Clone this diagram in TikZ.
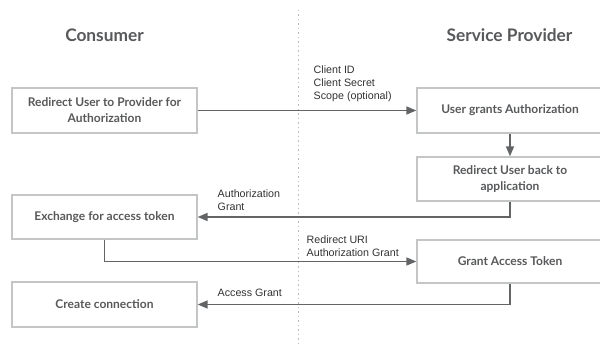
\documentclass[tikz,border=0pt]{standalone}
\usepackage{fontspec}
\setmainfont{Lato}
\newfontfamily\labelfont{Liberation Sans}
\usetikzlibrary{arrows.meta}

\definecolor{boxgray}{HTML}{C4C6C6}
\definecolor{textgray}{HTML}{58595B}
\definecolor{linegray}{HTML}{636466}
\definecolor{dotgray}{HTML}{BDBDBD}
\definecolor{labelgray}{HTML}{333333}

\tikzset{
  stepbox/.style={draw=boxgray, line width=1.3pt, fill=white, align=center,
    inner sep=0pt, text=textgray,
    font=\bfseries\fontsize{12}{16}\selectfont},
  leftbox/.style={stepbox, minimum width=185pt, minimum height=44pt},
  rightbox/.style={stepbox, minimum width=186pt, minimum height=44pt},
  header/.style={text=textgray, font=\bfseries\fontsize{17.3}{20}\selectfont},
  flow/.style={draw=linegray, line width=1.5pt,
    -{Triangle[length=10pt,width=8pt]}},
  msg/.style={anchor=west, align=left, inner sep=0pt, text=labelgray,
    font=\labelfont\fontsize{10.7}{13}\selectfont},
  divider/.style={draw=dotgray, line width=1.3pt, dash pattern=on 1.5pt off 3pt}
}

\begin{document}
\begin{tikzpicture}[x=1pt, y=-1pt]
  \useasboundingbox (0,0) rectangle (600,347);
  \fill[white] (0,0) rectangle (600,347);

  % swimlane divider
  \coordinate (divtop) at (298.5,10);
  \coordinate (divbot) at (298.5,347);
  \draw[divider] (divtop) -- (divbot);

  % lane headers
  \node[header] (consumer) at (104.5,35) {Consumer};
  \node[header] (provider) at (509.5,35) {Service Provider};

  % consumer steps
  \node[leftbox, minimum height=45pt] (redirect) at (104.5,110.5)
    {Redirect User to Provider for\\Authorization};
  \node[leftbox] (exchange) at (104.5,217) {Exchange for access token};
  \node[leftbox, minimum height=45pt] (connect) at (104.5,304.5) {Create connection};

  % provider steps
  \node[rightbox, minimum height=45pt] (grants) at (510,110.5) {User grants Authorization};
  \node[rightbox] (back) at (510,179) {Redirect User back to\\application};
  \node[rightbox, minimum height=43pt] (token) at (510,261.5) {Grant Access Token};

  % message flows
  \draw[flow] (redirect) -- (grants);
  \draw[flow] (grants) -- (back);
  \draw[flow] (back.south) |- (exchange.east);
  \draw[flow] (exchange.south) |- (token.west);
  \draw[flow] (token.south) |- (connect.east);

  % message labels
  \node[msg] (creds) at (313.5,84) {Client ID\\Client Secret\\Scope (optional)};
  \node[msg] (authgrant) at (217.5,200.5) {Authorization\\Grant};
  \node[msg] (uri) at (306.5,246.5) {Redirect URI\\Authorization Grant};
  \node[msg] (access) at (217.5,293) {Access Grant};
\end{tikzpicture}
\end{document}
